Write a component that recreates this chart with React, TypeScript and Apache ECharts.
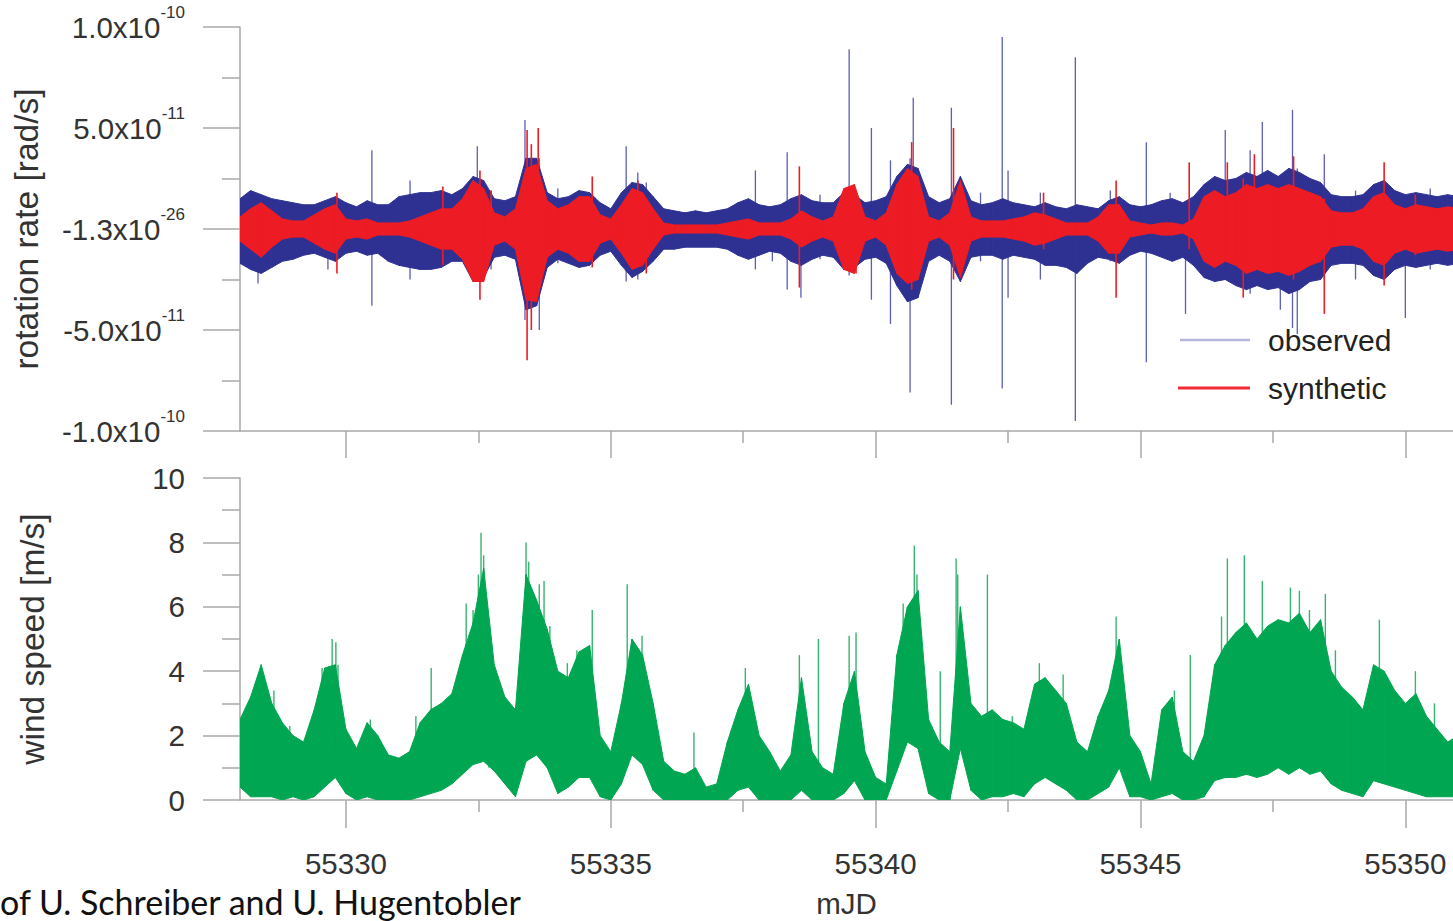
import React, { useEffect, useRef } from 'react';
import * as echarts from 'echarts';

// ---------- data ----------
// envelope bins: start at mJD 55328.0, one bin every 0.2 day
const BIN_START = 55328.0;
const BIN_STEP = 0.2;

const xTicksMajor = [55330, 55335, 55340, 55345, 55350];
const xTicksMinor = [55332.5, 55337.5, 55342.5, 55347.5];
const xTickLabels = ['55330', '55335', '55340', '55345', '55350'];

// rotation-rate axis (values in units of 1e-11 rad/s)
const rotTickValues = [-10, -5, 0, 5, 10];
const rotTickMantissa = ['-1.0x10', '-5.0x10', '-1.3x10', '5.0x10', '1.0x10'];
const rotTickExponent = ['-10', '-11', '-26', '-11', '-10'];

// observed rotation rate: dense band upper / lower edge (1e-11 rad/s)
const observedHi = [
  1.5, 1.9, 1.7, 1.5, 1.4, 1.3, 1.2, 1.2, 1.4, 1.6,
  1.3, 1.1, 1.4, 1.2, 1.2, 1.6, 1.7, 1.8, 1.8, 1.9,
  1.7, 2.0, 2.6, 2.4, 1.5, 1.4, 1.6, 3.5, 3.5, 1.8,
  1.5, 1.6, 1.9, 1.8, 1.3, 1.0, 1.8, 2.3, 2.2, 1.6,
  1.0, 0.9, 0.8, 0.9, 0.8, 0.9, 1.0, 1.3, 1.5, 1.2,
  1.1, 1.2, 1.5, 1.7, 1.4, 1.3, 1.3, 1.8, 1.7, 1.3,
  1.4, 1.6, 2.6, 3.2, 3.0, 1.6, 1.3, 1.5, 2.6, 1.4,
  1.2, 1.3, 1.5, 1.3, 1.2, 1.1, 1.3, 1.1, 1.0, 1.2,
  1.1, 1.0, 1.4, 1.6, 1.2, 1.1, 1.2, 1.4, 1.5, 1.3,
  1.6, 2.2, 2.6, 2.4, 2.5, 2.8, 2.6, 2.9, 2.6, 3.0,
  2.8, 2.5, 2.3, 1.7, 1.6, 1.6, 1.7, 2.2, 2.4, 1.9,
  1.7, 1.8, 1.7, 1.6, 1.7, 1.6,
];
const observedLo = [
  -1.7, -2.0, -2.2, -1.9, -1.6, -1.5, -1.3, -1.2, -1.4, -1.6,
  -1.2, -1.1, -1.3, -1.2, -1.6, -1.8, -1.9, -2.0, -2.0, -1.9,
  -1.6, -1.6, -2.6, -2.4, -1.4, -1.3, -1.5, -4.0, -3.8, -1.9,
  -1.5, -1.7, -1.9, -1.8, -1.3, -1.1, -1.8, -2.4, -2.1, -1.6,
  -1.0, -1.0, -0.9, -0.9, -0.9, -0.9, -1.0, -1.3, -1.5, -1.3,
  -1.1, -1.2, -1.6, -1.8, -1.5, -1.3, -1.4, -2.0, -1.9, -1.5,
  -1.4, -1.7, -2.8, -3.6, -3.4, -1.6, -1.3, -1.6, -2.6, -1.4,
  -1.3, -1.3, -1.5, -1.3, -1.4, -1.5, -1.8, -1.8, -1.9, -2.2,
  -1.7, -1.4, -1.5, -1.7, -1.3, -1.1, -1.2, -1.4, -1.6, -1.4,
  -1.8, -2.4, -2.6, -2.5, -2.8, -3.0, -2.8, -3.0, -2.9, -3.2,
  -3.0, -2.6, -2.5, -1.8, -1.7, -1.7, -1.8, -2.3, -2.5, -2.0,
  -1.8, -1.9, -1.8, -1.7, -1.8, -1.7,
];
// isolated observed spikes: [mJD, top, bottom]
const observedSpikes = [
  [55328.34, 1.5, -2.7], [55329.66, 1.3, -2.0], [55330.49, 3.9, -3.8], [55331.21, 2.4, -2.5],
  [55332.48, 4.1, -2.0], [55332.74, 1.9, -2.0], [55333.38, 5.4, -4.5], [55333.65, 3.5, -5.0],
  [55334.00, 2.0, -1.7], [55335.29, 4.1, -2.6], [55335.51, 2.8, -2.5], [55335.67, 2.3, -2.0],
  [55337.73, 2.9, -2.0], [55338.05, 1.0, -1.6], [55338.33, 3.8, -3.0], [55338.59, 1.5, -3.4],
  [55338.95, 1.7, -1.5], [55339.50, 8.9, -2.3], [55339.92, 5.0, -3.5], [55340.28, 3.4, -4.7],
  [55340.65, 3.5, -8.1], [55340.71, 6.5, -3.0], [55340.94, 2.0, -2.0], [55341.43, 6.0, -8.7],
  [55341.98, 1.8, -1.6], [55342.39, 9.5, -7.9], [55342.50, 2.9, -3.4], [55343.11, 1.8, -2.5],
  [55343.77, 8.5, -9.5], [55344.05, 1.0, -1.6], [55344.43, 1.9, -1.6], [55345.11, 4.3, -6.6],
  [55345.56, 1.8, -1.5], [55345.85, 1.0, -4.2], [55346.60, 4.9, -2.5], [55347.07, 3.9, -3.2],
  [55347.30, 5.3, -2.5], [55347.64, 2.5, -4.0], [55347.87, 5.9, -4.9], [55347.96, 3.0, -5.2],
  [55348.47, 3.7, -2.5], [55349.06, 1.9, -2.5], [55350.00, 1.5, -4.4], [55350.47, 2.0, -2.0],
];

// synthetic rotation rate band (1e-11 rad/s)
const syntheticHi = [
  0.6, 1.0, 1.3, 0.9, 0.5, 0.4, 0.4, 0.7, 1.0, 1.2,
  0.5, 0.4, 0.5, 0.3, 0.3, 0.3, 0.4, 0.6, 0.8, 1.0,
  1.0, 1.5, 2.4, 2.0, 0.8, 0.6, 1.0, 3.0, 3.2, 1.4,
  1.0, 1.2, 1.6, 1.6, 0.7, 0.5, 1.2, 2.0, 1.8, 1.0,
  0.3, 0.2, 0.2, 0.2, 0.2, 0.2, 0.3, 0.4, 0.5, 0.3,
  0.3, 0.3, 0.5, 0.9, 0.6, 0.4, 0.6, 2.0, 2.2, 0.6,
  0.4, 0.8, 2.2, 3.0, 2.6, 0.6, 0.4, 0.8, 2.4, 0.6,
  0.4, 0.4, 0.4, 0.5, 0.6, 0.8, 0.7, 0.5, 0.3, 0.3,
  0.3, 0.6, 1.2, 1.2, 0.4, 0.3, 0.2, 0.3, 0.3, 0.2,
  0.5, 1.6, 1.9, 1.6, 1.8, 2.2, 2.0, 2.2, 2.0, 2.2,
  2.0, 1.8, 1.6, 0.9, 0.8, 0.8, 1.0, 1.6, 1.8, 1.2,
  1.0, 1.2, 1.1, 1.0, 1.1, 1.0,
];
const syntheticLo = [
  -0.6, -1.0, -1.4, -0.9, -0.5, -0.4, -0.4, -0.7, -1.0, -1.2,
  -0.5, -0.4, -0.5, -0.3, -0.3, -0.3, -0.4, -0.6, -0.8, -1.0,
  -1.0, -1.5, -2.6, -2.6, -0.8, -0.6, -1.0, -3.5, -3.6, -1.4,
  -1.0, -1.2, -1.6, -1.6, -0.7, -0.5, -1.2, -2.0, -1.8, -1.0,
  -0.3, -0.2, -0.2, -0.2, -0.2, -0.2, -0.3, -0.4, -0.5, -0.3,
  -0.3, -0.3, -0.5, -0.9, -0.6, -0.4, -0.6, -2.0, -2.2, -0.6,
  -0.4, -0.8, -2.2, -2.7, -2.5, -0.6, -0.4, -0.8, -2.4, -0.6,
  -0.4, -0.4, -0.4, -0.5, -0.6, -0.8, -0.7, -0.5, -0.3, -0.3,
  -0.3, -0.6, -1.2, -1.2, -0.4, -0.3, -0.2, -0.3, -0.3, -0.2,
  -0.5, -1.6, -1.9, -1.6, -1.8, -2.2, -2.0, -2.2, -2.1, -2.3,
  -2.1, -1.8, -1.6, -0.9, -0.8, -0.8, -1.0, -1.6, -1.8, -1.2,
  -1.0, -1.2, -1.1, -1.0, -1.1, -1.0,
];
const syntheticSpikes = [
  [55329.83, 1.8, -2.2], [55331.83, 2.1, -1.8], [55332.53, 2.9, -3.5], [55332.74, 1.9, -1.2],
  [55333.42, 4.9, -6.5], [55333.50, 4.2, -5.0], [55333.63, 5.0, -3.0], [55334.65, 2.6, -1.9],
  [55335.51, 2.4, -1.5], [55335.67, 1.5, -2.2], [55338.56, 3.1, -2.9], [55339.63, 1.8, -2.2],
  [55340.68, 4.3, -3.0], [55341.47, 5.0, -2.5], [55343.17, 1.8, -1.0], [55344.54, 2.4, -3.4],
  [55345.92, 3.3, -1.0], [55346.64, 3.3, -1.5], [55346.94, 2.5, -3.4], [55347.15, 3.7, -2.0],
  [55347.89, 3.6, -2.5], [55348.47, 1.5, -4.2], [55349.60, 3.3, -2.8], [55350.19, 1.7, -1.3],
];

// wind speed band (m/s)
const windHi = [
  2.5, 3.2, 4.2, 3.0, 2.4, 2.0, 1.8, 2.8, 4.1, 4.2,
  2.2, 1.6, 2.4, 2.0, 1.4, 1.3, 1.5, 2.4, 2.8, 3.0,
  3.3, 4.5, 5.5, 7.2, 4.2, 3.2, 2.8, 7.0, 6.2, 5.3,
  4.0, 3.8, 4.6, 4.8, 2.0, 1.5, 3.0, 5.0, 4.5, 3.0,
  1.2, 0.9, 0.8, 1.0, 0.4, 0.5, 1.8, 2.8, 3.6, 2.0,
  1.5, 0.9, 1.4, 3.8, 1.5, 1.0, 0.8, 3.0, 4.0, 1.5,
  0.7, 0.5, 4.5, 6.0, 6.5, 2.5, 1.8, 1.5, 6.0, 3.0,
  2.6, 2.8, 2.5, 2.4, 2.2, 3.6, 3.8, 3.4, 3.0, 1.8,
  1.5, 2.6, 3.4, 5.0, 2.0, 1.5, 0.5, 2.8, 3.2, 1.5,
  1.2, 2.0, 4.2, 4.8, 5.2, 5.5, 5.0, 5.4, 5.6, 5.5,
  5.8, 5.2, 5.6, 4.0, 3.5, 3.2, 2.8, 4.2, 4.0, 3.4,
  3.0, 3.3, 2.6, 2.2, 1.8, 2.0,
];
const windLo = [
  0.4, 0.1, 0.1, 0.1, 0.0, 0.1, 0.0, 0.1, 0.4, 0.7,
  0.2, 0.0, 0.1, 0.0, 0.0, 0.0, 0.0, 0.1, 0.2, 0.3,
  0.5, 0.8, 1.1, 1.2, 0.9, 0.5, 0.1, 1.2, 1.4, 1.0,
  0.2, 0.4, 0.7, 0.7, 0.1, 0.0, 0.5, 1.4, 1.1, 0.3,
  0.0, 0.0, 0.0, 0.0, 0.0, 0.0, 0.0, 0.3, 0.4, 0.0,
  0.0, 0.0, 0.0, 0.3, 0.0, 0.0, 0.0, 0.2, 0.6, 0.0,
  0.0, 0.0, 0.9, 1.8, 1.6, 0.2, 0.0, 0.0, 1.6, 0.3,
  0.0, 0.1, 0.1, 0.2, 0.1, 0.5, 0.7, 0.5, 0.3, 0.0,
  0.0, 0.2, 0.4, 1.0, 0.1, 0.1, 0.0, 0.1, 0.2, 0.0,
  0.0, 0.1, 0.6, 0.7, 0.7, 0.8, 0.7, 0.8, 1.0, 0.8,
  1.0, 0.8, 0.9, 0.5, 0.3, 0.2, 0.1, 0.6, 0.5, 0.4,
  0.3, 0.2, 0.1, 0.1, 0.1, 0.1,
];
const windSpikes = [
  [55328.64, 3.4, 0.5], [55328.94, 2.3, 0.2], [55329.55, 4.1, 0.5], [55329.74, 5.0, 2.0],
  [55329.81, 4.9, 1.5], [55329.85, 4.2, 1.0], [55330.46, 2.5, 0.2], [55331.32, 2.6, 0.2],
  [55331.61, 4.1, 0.5], [55331.95, 3.2, 0.5], [55332.27, 6.1, 2.0], [55332.40, 5.9, 1.5],
  [55332.50, 7.0, 2.0], [55332.55, 8.3, 2.5], [55332.60, 7.6, 2.0], [55332.70, 4.9, 1.0],
  [55333.40, 8.0, 2.0], [55333.45, 7.4, 2.0], [55333.65, 6.7, 2.0], [55333.74, 6.8, 2.0],
  [55333.85, 5.4, 1.5], [55334.18, 4.25, 0.5], [55334.36, 4.65, 1.0], [55334.65, 5.9, 1.5],
  [55335.31, 6.7, 2.0], [55335.59, 5.1, 1.5], [55336.57, 2.1, 0.2], [55337.54, 4.1, 1.0],
  [55338.56, 4.5, 1.0], [55338.92, 5.0, 0.5], [55339.50, 5.1, 1.0], [55339.63, 5.2, 1.0],
  [55340.52, 6.1, 2.0], [55340.73, 7.9, 2.5], [55340.78, 7.0, 2.5], [55341.22, 4.0, 0.5],
  [55341.52, 7.5, 2.0], [55341.55, 7.0, 2.0], [55342.11, 7.0, 1.0], [55342.58, 2.6, 0.2],
  [55343.09, 4.25, 1.0], [55343.54, 3.9, 0.8], [55344.54, 5.7, 1.5], [55345.64, 3.4, 0.3],
  [55345.94, 4.5, 0.5], [55346.53, 5.7, 1.5], [55346.64, 7.5, 1.5], [55346.96, 7.6, 1.5],
  [55347.30, 6.8, 1.5], [55347.83, 6.6, 1.5], [55348.00, 6.5, 1.5], [55348.19, 5.9, 1.5],
  [55348.49, 6.4, 1.5], [55348.68, 4.65, 1.0], [55349.51, 5.6, 1.5], [55350.19, 4.0, 0.5],
  [55350.55, 3.0, 0.2],
];

// ---------- style ----------
const FONT = "'Liberation Sans', Arial, Helvetica, sans-serif";
const AXIS_COLOR = '#a9a9a9';
const TEXT_COLOR = '#333333';
const BLUE = '#2e3192';
const BLUE_SPIKE = '#5a5eb4';
const RED = '#ed1c24';
const GREEN = '#00a651';
const GREEN_SPIKE = '#35b56e';
const X_MIN = 55328;
const X_MAX = 55350.9;

const binX = observedHi.map((_, i) => Number((BIN_START + i * BIN_STEP).toFixed(2)));

// band drawn as one trapezoid per bin (from bin i to bin i+1), through the axes' scales
function bandSeries(name: string, hi: number[], lo: number[], color: string, xAxisIndex: number, yAxisIndex: number) {
  return {
    name,
    type: 'custom',
    xAxisIndex,
    yAxisIndex,
    silent: true,
    clip: true,
    data: binX.map((x, i) => [x, lo[i], hi[i]]),
    encode: { x: 0, y: [1, 2] },
    renderItem: (params: any, api: any) => {
      const i = params.dataIndex;
      if (i >= binX.length - 1) return { type: 'group', children: [] };
      const pts = [
        api.coord([binX[i], hi[i]]),
        api.coord([binX[i + 1], hi[i + 1]]),
        api.coord([binX[i + 1], lo[i + 1]]),
        api.coord([binX[i], lo[i]]),
      ];
      return {
        type: 'polygon',
        shape: { points: pts },
        style: { fill: color, stroke: color, lineWidth: 1 },
      };
    },
  };
}

function spikeSeries(name: string, spikes: number[][], color: string, width: number, xAxisIndex: number, yAxisIndex: number) {
  return {
    name,
    type: 'custom',
    xAxisIndex,
    yAxisIndex,
    silent: true,
    clip: true,
    data: spikes,
    encode: { x: 0, y: [1, 2] },
    renderItem: (_params: any, api: any) => {
      const p1 = api.coord([api.value(0), api.value(1)]);
      const p2 = api.coord([api.value(0), api.value(2)]);
      return {
        type: 'line',
        shape: { x1: p1[0], y1: p1[1], x2: p2[0], y2: p2[1] },
        style: { stroke: color, lineWidth: width },
      };
    },
  };
}

function mainXAxis(gridIndex: number, tickLen: number, withLabels: boolean) {
  return {
    type: 'value',
    gridIndex,
    min: X_MIN,
    max: X_MAX,
    position: 'bottom',
    axisLine: { show: true, onZero: false, lineStyle: { color: AXIS_COLOR, width: 1.5 } },
    axisTick: { show: true, length: tickLen, customValues: xTicksMajor, lineStyle: { color: AXIS_COLOR, width: 1.5 } },
    axisLabel: {
      show: withLabels,
      customValues: xTicksMajor,
      formatter: (v: number) => {
        const k = xTicksMajor.indexOf(Math.round(v));
        return k >= 0 ? xTickLabels[k] : '';
      },
      margin: 48,
      fontSize: 29.5,
      color: TEXT_COLOR,
      fontFamily: FONT,
    },
    splitLine: { show: false },
    name: withLabels ? 'mJD' : '',
    nameLocation: 'middle',
    nameGap: 88,
    nameTextStyle: { fontSize: 29.5, color: TEXT_COLOR, fontFamily: FONT },
  };
}

function minorXAxis(gridIndex: number) {
  return {
    type: 'value',
    gridIndex,
    min: X_MIN,
    max: X_MAX,
    position: 'bottom',
    axisLine: { show: false, onZero: false },
    axisTick: { show: true, length: 12, customValues: xTicksMinor, lineStyle: { color: AXIS_COLOR, width: 1.5 } },
    axisLabel: { show: false },
    splitLine: { show: false },
  };
}

export default function App() {
  const ref = useRef<HTMLDivElement>(null);

  useEffect(() => {
    if (!ref.current) return;
    const chart = echarts.init(ref.current, undefined, { renderer: 'svg' });

    const option: any = {
      animation: false,
      backgroundColor: '#ffffff',
      grid: [
        { left: 240, right: 0, top: 27, height: 404 },
        { left: 240, right: 0, top: 478, height: 322 },
      ],
      xAxis: [mainXAxis(0, 27, false), minorXAxis(0), mainXAxis(1, 28, true), minorXAxis(1)],
      yAxis: [
        {
          type: 'value',
          gridIndex: 0,
          min: -10,
          max: 10,
          interval: 5,
          axisLine: { show: true, onZero: false, lineStyle: { color: AXIS_COLOR, width: 1.5 } },
          axisTick: { show: true, length: 37, lineStyle: { color: AXIS_COLOR, width: 1.5 } },
          minorTick: { show: true, splitNumber: 2, length: 18, lineStyle: { color: AXIS_COLOR, width: 1.5 } },
          splitLine: { show: false },
          minorSplitLine: { show: false },
          axisLabel: {
            margin: 55,
            formatter: (v: number) => {
              const k = rotTickValues.indexOf(Math.round(v));
              return k >= 0 ? `{m|${rotTickMantissa[k]}}{s|${rotTickExponent[k]}}` : '';
            },
            rich: {
              m: { fontSize: 29.5, color: TEXT_COLOR, fontFamily: FONT, lineHeight: 46 },
              s: { fontSize: 17, color: TEXT_COLOR, fontFamily: FONT, lineHeight: 20, verticalAlign: 'top' },
            },
          },
          name: 'rotation rate [rad/s]',
          nameLocation: 'middle',
          nameRotate: 90,
          nameGap: 197,
          nameTextStyle: { fontSize: 33.5, color: TEXT_COLOR, fontFamily: FONT },
        },
        {
          type: 'value',
          gridIndex: 1,
          min: 0,
          max: 10,
          interval: 2,
          axisLine: { show: true, onZero: false, lineStyle: { color: AXIS_COLOR, width: 1.5 } },
          axisTick: { show: true, length: 37, lineStyle: { color: AXIS_COLOR, width: 1.5 } },
          minorTick: { show: true, splitNumber: 2, length: 18, lineStyle: { color: AXIS_COLOR, width: 1.5 } },
          splitLine: { show: false },
          minorSplitLine: { show: false },
          axisLabel: { margin: 55, fontSize: 29.5, color: TEXT_COLOR, fontFamily: FONT },
          name: 'wind speed [m/s]',
          nameLocation: 'middle',
          nameRotate: 90,
          nameGap: 191,
          nameTextStyle: { fontSize: 33.5, color: TEXT_COLOR, fontFamily: FONT },
        },
      ],
      // spikes first, then the dense band on top, so only the protruding parts of each spike show
      series: [
        spikeSeries('observed spikes', observedSpikes, BLUE_SPIKE, 1.3, 0, 0),
        bandSeries('observed', observedHi, observedLo, BLUE, 0, 0),
        spikeSeries('synthetic spikes', syntheticSpikes, RED, 1.6, 0, 0),
        bandSeries('synthetic', syntheticHi, syntheticLo, RED, 0, 0),
        spikeSeries('wind spikes', windSpikes, GREEN_SPIKE, 1.4, 2, 1),
        bandSeries('wind speed', windHi, windLo, GREEN, 2, 1),
      ],
      graphic: [
        { type: 'line', shape: { x1: 1180, y1: 340, x2: 1250, y2: 340 }, style: { stroke: '#b4b6dc', lineWidth: 2.5 } },
        {
          type: 'text', x: 1268, y: 340,
          style: { text: 'observed', fontSize: 30, fontFamily: FONT, fill: '#222222', verticalAlign: 'middle', textVerticalAlign: 'middle' },
        },
        { type: 'line', shape: { x1: 1178, y1: 388, x2: 1250, y2: 388 }, style: { stroke: '#ef2b33', lineWidth: 3 } },
        {
          type: 'text', x: 1268, y: 388,
          style: { text: 'synthetic', fontSize: 30, fontFamily: FONT, fill: '#222222', verticalAlign: 'middle', textVerticalAlign: 'middle' },
        },
        {
          type: 'text', x: 0, y: 901,
          style: { text: 'of U. Schreiber and U. Hugentobler', fontSize: 34, fontFamily: 'Lato, sans-serif', fill: '#111111', verticalAlign: 'middle', textVerticalAlign: 'middle' },
        },
      ],
    };

    chart.setOption(option);
    return () => chart.dispose();
  }, []);

  return (
    <div
      ref={ref}
      style={{ position: 'fixed', left: 0, top: 0, width: 1453, height: 921, background: '#ffffff' }}
    />
  );
}
